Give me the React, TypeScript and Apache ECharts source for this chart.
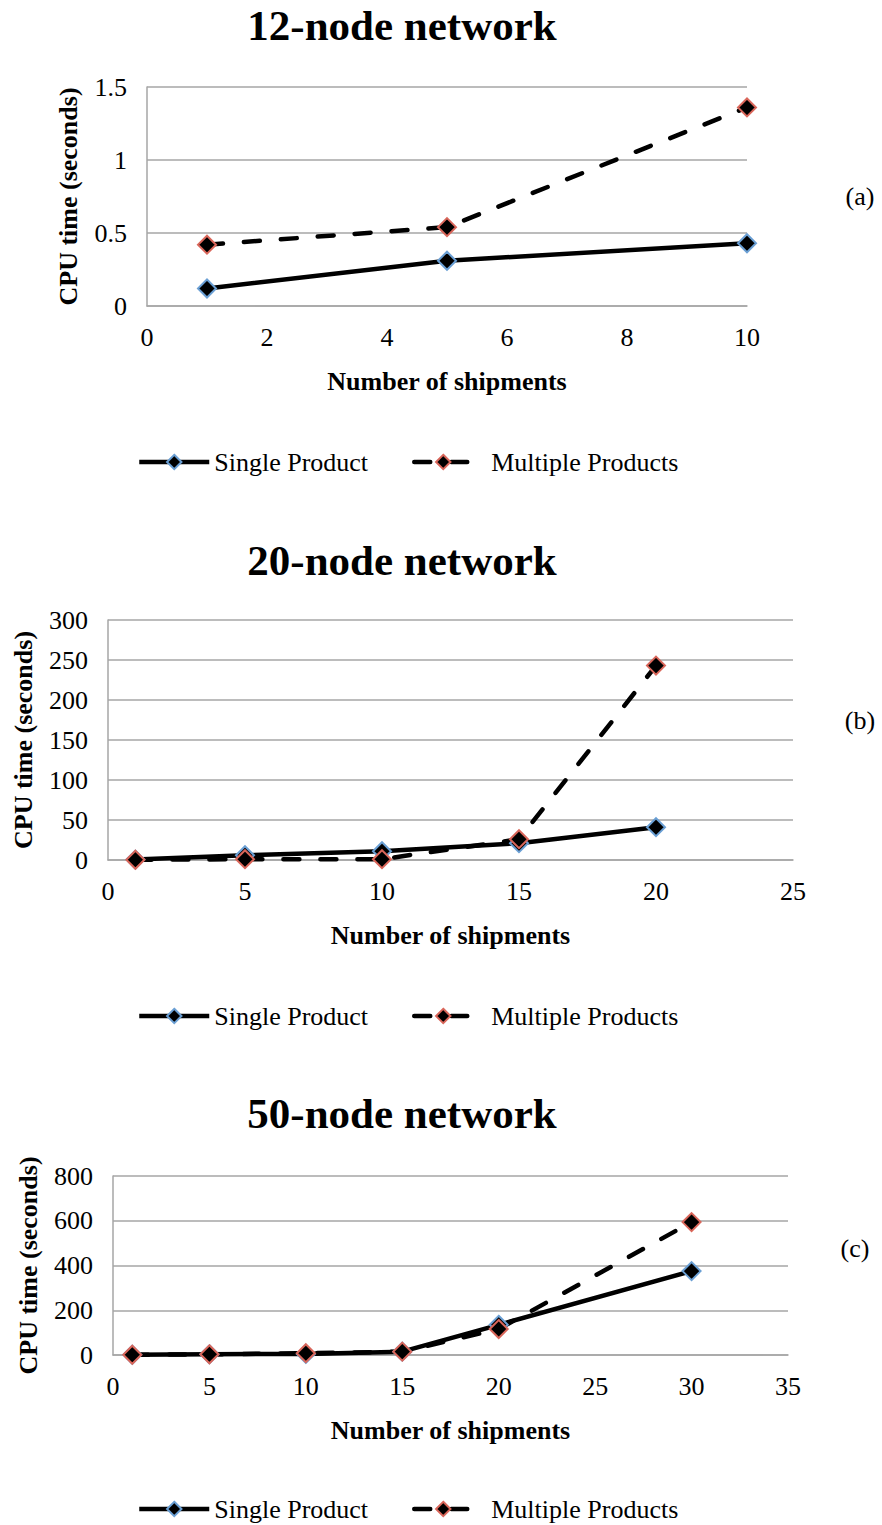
import React, { useEffect, useRef } from "react";
import * as echarts from "echarts";

// ---- data ----
const titles = ["12-node network", "20-node network", "50-node network"];
const panelTags = ["(a)", "(b)", "(c)"];
const seriesNames = ["Single Product", "Multiple Products"];

const net12Shipments = [1, 5, 10];
const net12Single = [0.12, 0.31, 0.43];
const net12Multi = [0.42, 0.54, 1.36];

const net20Shipments = [1, 5, 10, 15, 20];
const net20Single = [0.5, 6, 11, 21, 41];
const net20Multi = [0.3, 1, 1, 26, 243];

const net50Shipments = [1, 5, 10, 15, 20, 30];
const net50Single = [1, 3, 5, 15, 135, 375];
const net50Multi = [1, 3, 8, 15, 116, 594];

const xMax = [10, 25, 35];
const xStep = [2, 5, 5];
const yMax = [1.5, 300, 800];
const yStep = [0.5, 50, 200];

const FONT = '"Liberation Serif", "Times New Roman", serif';

export default function App() {
  const ref = useRef<HTMLDivElement>(null);
  useEffect(() => {
    if (!ref.current) return;
    const chart = echarts.init(ref.current, null, { renderer: "svg" });

    const grids = [
      { left: 147, top: 87, width: 600, height: 219 },
      { left: 108, top: 620, width: 685, height: 240 },
      { left: 113, top: 1176, width: 675, height: 179 },
    ];
    const yNameGap = [66, 72, 72];
    const legendTops = [449, 1003, 1496];
    const titleYs = [25, 560, 1113];
    const tagYs = [196, 720, 1248];
    const tagXs = [860, 860, 855];

    const data = [
      [net12Shipments, net12Single, net12Multi],
      [net20Shipments, net20Single, net20Multi],
      [net50Shipments, net50Single, net50Multi],
    ];

    const gray = "#A6A6A6";
    const xAxes = grids.map((_, i) => ({
      type: "value",
      gridIndex: i,
      min: 0,
      max: xMax[i],
      interval: xStep[i],
      name: "Number of shipments",
      nameLocation: "middle",
      nameGap: 62,
      nameTextStyle: { fontFamily: FONT, fontWeight: "bold", fontSize: 26, color: "#000" },
      axisLine: { show: true, lineStyle: { color: gray, width: 1.5 } },
      axisTick: { show: false },
      splitLine: { show: false },
      axisLabel: { fontFamily: FONT, fontSize: 26, color: "#000", margin: 18 },
    }));
    const yAxes = grids.map((_, i) => ({
      type: "value",
      gridIndex: i,
      min: 0,
      max: yMax[i],
      interval: yStep[i],
      name: "CPU time (seconds)",
      nameLocation: "middle",
      nameGap: yNameGap[i],
      nameTextStyle: { fontFamily: FONT, fontWeight: "bold", fontSize: 26, color: "#000" },
      axisLine: { show: true, lineStyle: { color: gray, width: 1.5 } },
      axisTick: { show: false },
      splitLine: { show: true, lineStyle: { color: gray, width: 1.5 } },
      axisLabel: { fontFamily: FONT, fontSize: 26, color: "#000", margin: 20 },
    }));

    const series: any[] = [];
    data.forEach((d, i) => {
      const [xs, single, multi] = d;
      series.push({
        name: seriesNames[0],
        type: "line",
        xAxisIndex: i,
        yAxisIndex: i,
        data: xs.map((x, k) => [x, single[k]]),
        symbol: "diamond",
        symbolSize: 18,
        lineStyle: { color: "#000", width: 4.5 },
        itemStyle: { color: "#000", borderColor: "#6A9FD4", borderWidth: 2 },
      });
      series.push({
        name: seriesNames[1],
        type: "line",
        xAxisIndex: i,
        yAxisIndex: i,
        data: xs.map((x, k) => [x, multi[k]]),
        symbol: "diamond",
        symbolSize: 18,
        lineStyle: { color: "#000", width: 4.5, type: [16, 21], cap: "round" },
        itemStyle: { color: "#000", borderColor: "#D9665A", borderWidth: 2 },
      });
    });

    const legends: any[] = [];
    legendTops.forEach((t) => {
      legends.push({
        data: [seriesNames[0]],
        left: 137,
        top: t,
        itemWidth: 70,
        itemHeight: 18,
        itemGap: 0,
        padding: 0,
        lineStyle: { width: 4.5 },
        textStyle: { fontFamily: FONT, fontSize: 26, lineHeight: 26, color: "#000" },
      });
      legends.push({
        data: [seriesNames[1]],
        left: 412,
        top: t,
        itemWidth: 58,
        itemHeight: 18,
        itemGap: 0,
        padding: 0,
        lineStyle: { width: 4.5, type: [16, 21], cap: "round" },
        textStyle: {
          fontFamily: FONT,
          fontSize: 26,
          lineHeight: 26,
          color: "#000",
          padding: [0, 0, 0, 14],
        },
      });
    });

    const graphics: any[] = [];
    titles.forEach((t, i) => {
      graphics.push({
        type: "text",
        x: 402,
        y: titleYs[i],
        style: {
          text: t,
          fontFamily: FONT,
          fontWeight: "bold",
          fontSize: 43,
          fill: "#000",
          textAlign: "center",
          textVerticalAlign: "middle",
        },
      });
      graphics.push({
        type: "text",
        x: tagXs[i],
        y: tagYs[i],
        style: {
          text: panelTags[i],
          fontFamily: FONT,
          fontSize: 26,
          fill: "#000",
          textAlign: "center",
          textVerticalAlign: "middle",
        },
      });
    });

    chart.setOption({
      animation: false,
      backgroundColor: "#fff",
      grid: grids,
      xAxis: xAxes,
      yAxis: yAxes,
      legend: legends,
      series,
      graphic: graphics,
    });
    return () => chart.dispose();
  }, []);
  return (
    <div
      ref={ref}
      style={{ position: "absolute", left: 0, top: 0, width: 882, height: 1525 }}
    />
  );
}
